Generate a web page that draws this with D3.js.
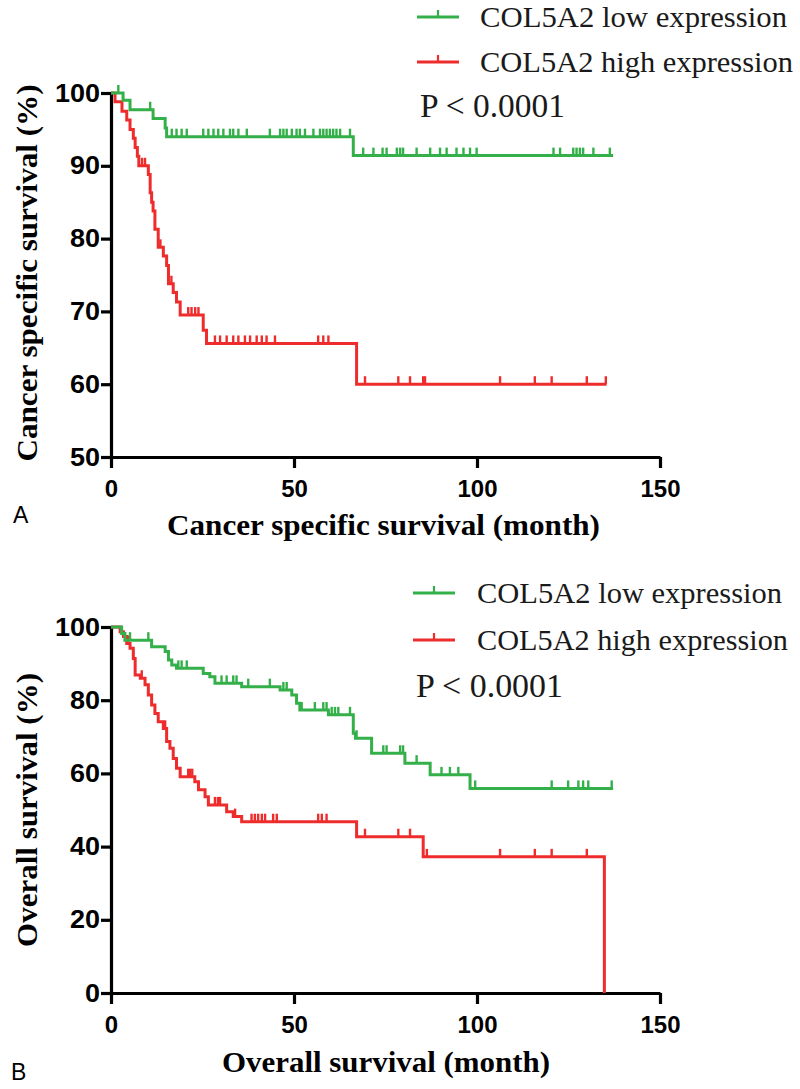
<!DOCTYPE html>
<html>
<head>
<meta charset="utf-8">
<script src="https://cdn.jsdelivr.net/npm/d3@7"></script>
<style>
  html, body { margin: 0; padding: 0; background: #fff; }
  svg { display: block; }
</style>
</head>
<body>
<svg id="chart" width="800" height="1089"></svg>
<script>
// ---------------- DATA ----------------
const xTicks = [0, 50, 100, 150];
const yTicksA = [50, 60, 70, 80, 90, 100];
const yTicksB = [0, 20, 40, 60, 80, 100];
const legendLabels = ["COL5A2 low expression", "COL5A2 high expression"];
const pLabel = "P < 0.0001";
const titlesA = { x: "Cancer specific survival (month)", y: "Cancer specific survival (%)", tag: "A" };
const titlesB = { x: "Overall survival (month)", y: "Overall survival (%)", tag: "B" };

// Panel A: cancer specific survival, low expression (green)
const csLowTime = [0, 3.3, 5.2, 11.5, 14.8, 15.2, 66.2];
const csLowSurv = [100, 99.0, 97.7, 96.5, 95.2, 94.0, 91.4];
const csLowEnd = 137.2;
const csLowCensor = [2.0, 10.7, 16.6, 17.9, 19.3, 20.7, 25.2, 26.6, 28, 29.3, 30.7, 32.5, 33.4, 34.8, 37.1,
  43.4, 46.2, 47.1, 48, 49.4, 50.7, 51.6, 53, 55.3, 57.1, 58, 58.9, 59.8, 60.7, 61.6, 62.6, 65.3,
  68.9, 71.7, 74.2, 75.3, 78.1, 79, 79.8, 83.5, 87.2, 89.9, 91.7, 94.4, 96.3, 98.1, 99.9,
  120.9, 122.7, 126.3, 127.2, 128.1, 129, 131.8, 136.3];

// Panel A: cancer specific survival, high expression (red)
const csHighTime = [0, 1.1, 3.0, 4.3, 5.2, 6.1, 6.6, 7.2, 7.6, 10.2, 10.7, 11.1, 11.5, 12.0, 12.9,
  14.3, 15.2, 15.7, 17.0, 17.9, 18.9, 25.2, 26.1, 67.1];
const csHighSurv = [100, 98.8, 97.5, 96.3, 95.0, 93.8, 92.5, 91.3, 90.0, 88.8, 86.3, 85.0, 83.8, 81.3, 78.8,
  77.6, 76.3, 73.8, 72.6, 71.3, 69.5, 67.4, 65.6, 60.0];
const csHighEnd = 135.4;
const csHighCensor = [8.5, 9.3, 13.5, 16.5, 21.1, 22, 23, 23.9, 28.4, 29.8, 31.6, 33.4, 34.8, 36.6, 38,
  39.8, 41.2, 42.5, 44.8, 56.6, 58, 59.4, 69.4, 78.5, 81.7, 85.3, 85.8, 106.3, 115.8, 120.4, 130, 135.2];

// Panel B: overall survival, low expression (green)
const osLowTime = [0, 2.9, 3.8, 11.1, 14.8, 15.7, 16.6, 17.9, 25.2, 27.0, 28.4, 35.7, 46.2, 49.4, 50.7,
  51.6, 59.4, 66.2, 66.8, 71.2, 80.3, 87.2, 98.1];
const osLowSurv = [100, 98.2, 96.4, 94.6, 93.3, 91.0, 89.6, 88.7, 87.3, 86.4, 84.6, 83.7, 82.8, 81.4, 79.2,
  77.3, 76.0, 71.0, 69.6, 65.5, 62.8, 59.6, 55.9];
const osLowEnd = 137.2;
const osLowCensor = [5.2, 10.2, 18.4, 19.3, 20.7, 30.2, 31.6, 33.4, 34.3, 37.5, 43.4, 47.1, 48, 52.1, 55.7,
  58, 58.9, 60.3, 61.2, 62.1, 65.3, 67.1, 74.4, 75.3, 79, 79.8, 83.5, 90.3, 92.6, 94.9, 99.5,
  120.4, 124.9, 127.7, 129, 130.4, 136.8];

// Panel B: overall survival, high expression (red)
const osHighTime = [0, 2.5, 3.4, 4.3, 5.2, 6.1, 6.6, 8.0, 9.3, 10.2, 11.1, 12.0, 12.9, 14.3, 15.2, 16.1,
  17.0, 17.9, 18.9, 22.9, 23.9, 25.7, 26.6, 31.6, 33.4, 35.7, 67.1, 85.3, 134.8];
const osHighSurv = [100, 98.7, 97.4, 95.5, 94.2, 91.4, 86.9, 86.0, 84.2, 81.4, 78.7, 76.4, 74.1, 72.3, 68.7, 66.9,
  64.1, 61.4, 59.1, 57.7, 55.5, 53.6, 51.4, 49.5, 48.2, 46.8, 42.7, 37.2, 0];
const osHighEnd = 134.8;
const osHighCensor = [4.7, 8.4, 14.8, 21.1, 21.6, 22.2, 28.4, 29.2, 29.8, 33.9, 38.4, 39.3, 40.2, 41.2, 42.1,
  44.3, 45.3, 56.6, 57.6, 58.9, 69.4, 78.5, 81.7, 86.3, 106.3, 115.8, 120.4, 130];

// ---------------- DRAWING ----------------
const GREEN = "#34b04a";
const RED = "#ee2c2c";
const svg = d3.select("#chart");
const tickFont = "'Liberation Sans', Arial, sans-serif";
const titleFont = "'Liberation Serif', 'Times New Roman', serif";

function survAt(times, surv, t) {
  let s = surv[0];
  for (let i = 0; i < times.length; i++) { if (times[i] <= t) s = surv[i]; }
  return s;
}

function drawPanel(cfg) {
  const g = svg.append("g");
  const x = d3.scaleLinear().domain([0, 150]).range([111, 660]);
  const y = d3.scaleLinear().domain(cfg.yDomain).range(cfg.yRange);

  // axes
  const ax = g.append("g").attr("transform", `translate(0,${cfg.yRange[0]})`)
    .call(d3.axisBottom(x).tickValues(xTicks).tickSize(11).tickSizeOuter(0).tickPadding(12).tickFormat(d3.format("d")));
  const ay = g.append("g").attr("transform", `translate(111,0)`)
    .call(d3.axisLeft(y).tickValues(cfg.yTicks).tickSize(10).tickSizeOuter(0).tickPadding(1).tickFormat(d3.format("d")));
  [ax, ay].forEach(a => {
    a.select(".domain").attr("stroke", "#000").attr("stroke-width", 3.2);
    a.selectAll(".tick line").attr("stroke", "#000").attr("stroke-width", 3.2);
    a.selectAll(".tick text").attr("fill", "#000").attr("font-family", tickFont)
      .attr("font-weight", "bold").attr("font-size", 24);
  });
  ay.selectAll(".tick text").attr("font-size", 25)
    .attr("textLength", d => String(d).length * 15).attr("lengthAdjust", "spacingAndGlyphs");

  // curves (red drawn first, green on top)
  const line = d3.line().x(d => x(d[0])).y(d => y(d[1])).curve(d3.curveStepAfter);
  cfg.series.forEach(s => {
    const pts = s.time.map((t, i) => [t, s.surv[i]]);
    pts.push([s.end, s.surv[s.surv.length - 1]]);
    g.append("path").datum(pts).attr("d", line)
      .attr("fill", "none").attr("stroke", s.color).attr("stroke-width", 3)
      .attr("stroke-linejoin", "miter");
    g.append("g").selectAll("line").data(s.censor).join("line")
      .attr("x1", d => x(d)).attr("x2", d => x(d))
      .attr("y1", d => y(survAt(s.time, s.surv, d)))
      .attr("y2", d => y(survAt(s.time, s.surv, d)) - 8)
      .attr("stroke", s.color).attr("stroke-width", 2.4);
  });

  // legend (ordered by legend index)
  const lg = cfg.legend;
  cfg.series.forEach(s => {
    const i = s.legendIndex;
    const ly = lg.lineY[i];
    g.append("line").attr("x1", lg.lineX[0]).attr("x2", lg.lineX[1]).attr("y1", ly).attr("y2", ly)
      .attr("stroke", s.color).attr("stroke-width", 3);
    const mx = (lg.lineX[0] + lg.lineX[1]) / 2;
    g.append("line").attr("x1", mx).attr("x2", mx).attr("y1", ly).attr("y2", ly - 7)
      .attr("stroke", s.color).attr("stroke-width", 2.2);
    g.append("text").attr("x", lg.textX).attr("y", lg.textY[i])
      .attr("font-family", titleFont).attr("font-size", 30).attr("fill", "#1a1a1a")
      .attr("textLength", lg.textLen[i]).attr("lengthAdjust", "spacingAndGlyphs")
      .text(legendLabels[i]);
  });
  g.append("text").attr("x", lg.pX).attr("y", lg.pY)
    .attr("font-family", titleFont).attr("font-size", 33).attr("fill", "#1a1a1a")
    .attr("textLength", lg.pLen).attr("lengthAdjust", "spacingAndGlyphs")
    .text(pLabel);

  // titles
  g.append("text").attr("x", cfg.xTitle.x).attr("y", cfg.xTitle.y)
    .attr("font-family", titleFont).attr("font-weight", "bold").attr("font-size", 29)
    .attr("textLength", cfg.xTitle.len).attr("lengthAdjust", "spacingAndGlyphs")
    .text(cfg.titles.x);
  g.append("text").attr("transform", `translate(37,${cfg.yTitle.cy}) rotate(-90)`)
    .attr("text-anchor", "middle")
    .attr("font-family", titleFont).attr("font-weight", "bold").attr("font-size", 29)
    .attr("textLength", cfg.yTitle.len).attr("lengthAdjust", "spacingAndGlyphs")
    .text(cfg.titles.y);
  g.append("text").attr("x", cfg.tag.x).attr("y", cfg.tag.y)
    .attr("font-family", tickFont).attr("font-size", 23).attr("fill", "#000")
    .text(cfg.titles.tag);
}

drawPanel({
  yDomain: [50, 100], yRange: [457, 93], yTicks: yTicksA, titles: titlesA,
  series: [
    { time: csHighTime, surv: csHighSurv, end: csHighEnd, censor: csHighCensor, color: RED, legendIndex: 1 },
    { time: csLowTime, surv: csLowSurv, end: csLowEnd, censor: csLowCensor, color: GREEN, legendIndex: 0 }
  ],
  legend: { lineX: [417, 459], lineY: [17, 62], textX: 480, textY: [27, 72], textLen: [307, 313],
            pX: 420, pY: 117, pLen: 145 },
  xTitle: { x: 167, y: 535, len: 433 }, yTitle: { cy: 273, len: 377 }, tag: { x: 13, y: 523 }
});

drawPanel({
  yDomain: [0, 100], yRange: [993, 627], yTicks: yTicksB, titles: titlesB,
  series: [
    { time: osHighTime, surv: osHighSurv, end: osHighEnd, censor: osHighCensor, color: RED, legendIndex: 1 },
    { time: osLowTime, surv: osLowSurv, end: osLowEnd, censor: osLowCensor, color: GREEN, legendIndex: 0 }
  ],
  legend: { lineX: [413, 455], lineY: [593, 640], textX: 477, textY: [603, 650], textLen: [305, 311],
            pX: 416, pY: 697, pLen: 147 },
  xTitle: { x: 222, y: 1072, len: 328 }, yTitle: { cy: 810, len: 274 }, tag: { x: 11, y: 1080 }
});
</script>
</body>
</html>
